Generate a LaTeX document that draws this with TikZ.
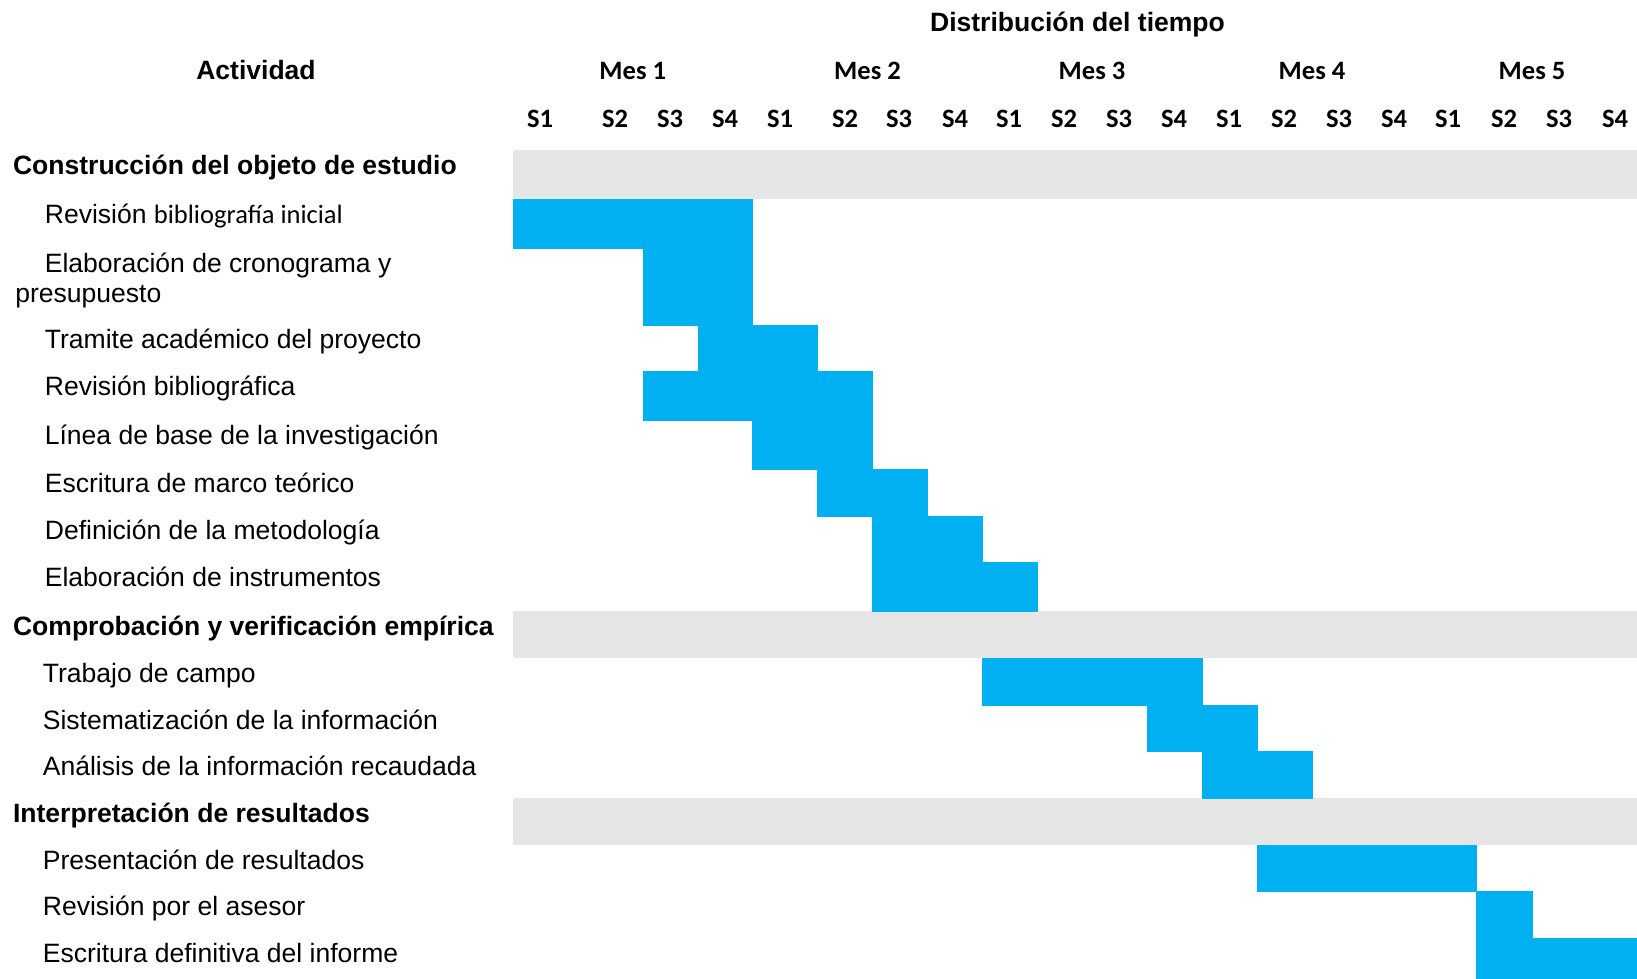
\documentclass[tikz,border=0pt]{standalone}
\usepackage{fontspec}
\setmainfont{Liberation Sans}
\newfontfamily\calibrifont{Carlito}
\usetikzlibrary{positioning}
\definecolor{ganttBlue}{HTML}{00B0F0}
\definecolor{ganttGray}{HTML}{E6E6E6}
\newcommand{\ganttsize}{\fontsize{15.1}{17.1}\selectfont}
\tikzset{
  headtext/.style={font=\ganttsize\bfseries, anchor=base, inner sep=0pt},
  weektext/.style={font=\ganttsize\calibrifont\bfseries, anchor=base, inner sep=0pt},
  phasetext/.style={font=\ganttsize\bfseries, anchor=base west, inner sep=0pt},
  tasktext/.style={font=\ganttsize, anchor=base west, inner sep=0pt},
  phaseband/.style={fill=ganttGray},
  taskbar/.style={fill=ganttBlue, draw=ganttBlue, line width=0.3pt},
}
\begin{document}
\begin{tikzpicture}[x=0.02cm, y=-0.02cm]
\useasboundingbox (0,0) rectangle (1637,979);
% Week column edges
\foreach \i/\x in {0/513, 1/588, 2/643, 3/698, 4/752.5, 5/817, 6/872.5, 7/927,
                   8/982.5, 9/1037, 10/1092, 11/1147, 12/1202, 13/1257.5,
                   14/1312, 15/1367, 16/1422, 17/1476.5, 18/1532, 19/1587,
                   20/1637} {
  \coordinate (c\i) at (\x, 0);
}
% Row edges
\foreach \j/\y in {0/150, 1/199, 2/248, 3/325, 4/371, 5/420, 6/469, 7/516,
                   8/562, 9/611, 10/658, 11/705, 12/751, 13/798, 14/845,
                   15/891, 16/938, 17/979} {
  \coordinate (r\j) at (0, \y);
}

%% Phase bands
\foreach \j/\k in {0/1, 9/10, 13/14} {
  \fill[phaseband] (c0 |- r\j) rectangle (c20 |- r\k);
}

%% Task bars (first week / last week edge / row)
\foreach \a/\b/\j/\k in {0/4/1/2, 2/4/2/3, 3/5/3/4, 2/6/4/5, 4/6/5/6, 5/7/6/7,
                         6/8/7/8, 6/9/8/9, 8/12/10/11, 11/13/11/12,
                         12/14/12/13, 13/17/14/15, 17/18/15/16, 17/20/16/17} {
  \fill[taskbar] (c\a |- r\j) rectangle (c\b |- r\k);
}

%% Header
\node[headtext] (dist) at (1077.5, 32) {Distribución del tiempo};
\node[headtext] (act)  at (256, 80)    {Actividad};
\foreach \m/\x in {1/632.75, 2/867.5, 3/1092, 4/1312, 5/1532} {
  \node[weektext] (mes\m) at (\x, 80) {Mes \m};
}
\foreach \n/\x/\s in {1/540/1, 2/615/2, 3/670/3, 4/725/4, 5/780/1, 6/845/2,
                      7/899/3, 8/955/4, 9/1009/1, 10/1064/2, 11/1119/3,
                      12/1174/4, 13/1229/1, 14/1284/2, 15/1339/3, 16/1394/4,
                      17/1448/1, 18/1504/2, 19/1559/3, 20/1615/4} {
  \node[weektext] (wk\n) at (\x, 128) {S\s};
}

%% Phase 1
\node[phasetext] (phA) at (12.7, 175) {Construcción del objeto de estudio};
\node[tasktext] (tA1) at (44.5, 223.5) {Revisión {\calibrifont bibliografía inicial}};
\node[tasktext, align=left] (tA2) at (15, 303)
  {\hspace{0.59cm}Elaboración de cronograma y\\presupuesto};
\node[tasktext] (tA3) at (44.5, 349)   {Tramite académico del proyecto};
\node[tasktext] (tA4) at (44.5, 396)   {Revisión bibliográfica};
\node[tasktext] (tA5) at (44.5, 445)   {Línea de base de la investigación};
\node[tasktext] (tA6) at (44.5, 493)   {Escritura de marco teórico};
\node[tasktext] (tA7) at (44.5, 539.5) {Definición de la metodología};
\node[tasktext] (tA8) at (44.5, 587)   {Elaboración de instrumentos};

%% Phase 2
\node[phasetext] (phB) at (12.7, 636) {Comprobación y verificación empírica};
\node[tasktext] (tB1) at (42.5, 682.5) {Trabajo de campo};
\node[tasktext] (tB2) at (42.5, 729)   {Sistematización de la información};
\node[tasktext] (tB3) at (42.5, 775.5) {Análisis de la información recaudada};

%% Phase 3
\node[phasetext] (phC) at (12.7, 822.5) {Interpretación de resultados};
\node[tasktext] (tC1) at (42.5, 869)   {Presentación de resultados};
\node[tasktext] (tC2) at (42.5, 915.5) {Revisión por el asesor};
\node[tasktext] (tC3) at (42.5, 962)   {Escritura definitiva del informe};
\end{tikzpicture}
\end{document}
